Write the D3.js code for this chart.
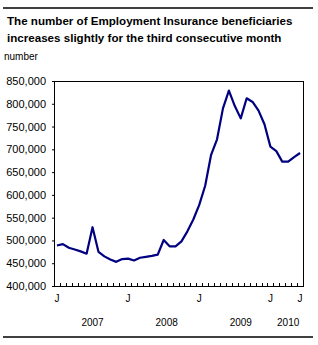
<!DOCTYPE html>
<html>
<head>
<meta charset="utf-8">
<script src="https://cdn.jsdelivr.net/npm/d3@7"></script>
<style>
  body { margin: 0; background: #fff; }
  svg text { font-family: "Liberation Sans", Arial, sans-serif; fill: #000; }
</style>
</head>
<body>
<div id="chart"></div>
<script>
// months Jan 2007 -> Jun 2010
var mois = [];
for (var yy = 2007; yy <= 2010; yy++) {
  for (var mm = 0; mm < 12; mm++) {
    if (yy == 2010 && mm > 5) break;
    mois.push(yy + '-' + (mm + 1));
  }
}

// beneficiaries
var beneficiaires = [
  489000, 492000, 484000, 480000, 476000, 471000, 529000, 475000, 465000, 458000, 453000, 459000,
  460000, 456000, 462000, 464000, 466000, 469000, 501000, 487000, 487000, 498000, 520000, 546000,
  578000, 620000, 688000, 722000, 790000, 829000, 795000, 768000, 812000, 804000, 785000, 755000,
  706000, 696000, 673000, 673000, 683000, 692000
];

var yTicks = [400000, 450000, 500000, 550000, 600000, 650000, 700000, 750000, 800000, 850000];

// "J" labels (index of month)
var jLabels = [0, 12, 24, 36, 41];

// year labels, anchored on a month index
var annees = ['2007', '2008', '2009', '2010'];
var anneesPos = [6, 18.5, 31, 39];

var W = 318, H = 345;
var x0 = 54, x1 = 303, y0 = 81, y1 = 286;

var svg = d3.select('#chart').append('svg')
  .attr('width', W).attr('height', H);

// regles haut / bas
svg.append('line').attr('x1', 3).attr('x2', 313).attr('y1', 8).attr('y2', 8)
  .attr('stroke', '#000').attr('stroke-width', 1.5);
svg.append('line').attr('x1', 3).attr('x2', 313).attr('y1', 337).attr('y2', 337)
  .attr('stroke', '#000').attr('stroke-width', 1.5);

// titre
svg.append('text').attr('x', 7).attr('y', 25)
  .style('font-size', '11.6px').style('font-weight', 'bold')
  .text('The number of Employment Insurance beneficiaries');
svg.append('text').attr('x', 7).attr('y', 42)
  .style('font-size', '11.6px').style('font-weight', 'bold')
  .text('increases slightly for the third consecutive month');

svg.append('text').attr('x', 4).attr('y', 60)
  .style('font-size', '10px').text('number');

var x = d3.scaleBand().domain(mois).range([x0, x1]);
var xc = function (i) { return x(mois[0]) + x.bandwidth() * (i + 0.5); };
var y = d3.scaleLinear().domain([400000, 850000]).range([y1, y0]);

// axe y
var yAxis = d3.axisLeft(y).tickValues(yTicks).tickSize(2).tickPadding(6)
  .tickFormat(d3.format(','));
var gy = svg.append('g').attr('transform', 'translate(' + x0 + ',0)').call(yAxis);
gy.select('.domain').remove();
gy.selectAll('line').attr('stroke', '#000');
gy.selectAll('text').style('font-size', '11px').style('font-family', '"Liberation Sans", Arial, sans-serif');

// ticks mois (bords des bandes, vers l'interieur)
var bords = d3.range(1, mois.length);
svg.append('g').selectAll('line').data(bords).enter().append('line')
  .attr('x1', function (d) { return Math.round(x0 + d * x.bandwidth()) + 0.5; })
  .attr('x2', function (d) { return Math.round(x0 + d * x.bandwidth()) + 0.5; })
  .attr('y1', y1).attr('y2', y1 - 3)
  .attr('stroke', '#000').attr('stroke-width', 1);

// cadre
svg.append('rect').attr('x', x0 + 0.5).attr('y', y0 + 0.5)
  .attr('width', x1 - x0).attr('height', y1 - y0)
  .attr('fill', 'none').attr('stroke', '#000').attr('stroke-width', 1);

// ligne
var line = d3.line()
  .x(function (d, i) { return xc(i); })
  .y(function (d) { return y(d); });
svg.append('path').datum(beneficiaires)
  .attr('d', line)
  .attr('fill', 'none').attr('stroke', '#000080')
  .attr('stroke-width', 2.2).attr('stroke-linejoin', 'round');

// labels x
svg.append('g').selectAll('text').data(jLabels).enter().append('text')
  .attr('x', function (d) { return xc(d); })
  .attr('y', 302)
  .attr('text-anchor', 'middle')
  .style('font-size', '10px')
  .text('J');

svg.append('g').selectAll('text').data(annees).enter().append('text')
  .attr('x', function (d, i) { return xc(anneesPos[i]); })
  .attr('y', 326)
  .attr('text-anchor', 'middle')
  .style('font-size', '10px')
  .text(function (d) { return d; });
</script>
</body>
</html>
